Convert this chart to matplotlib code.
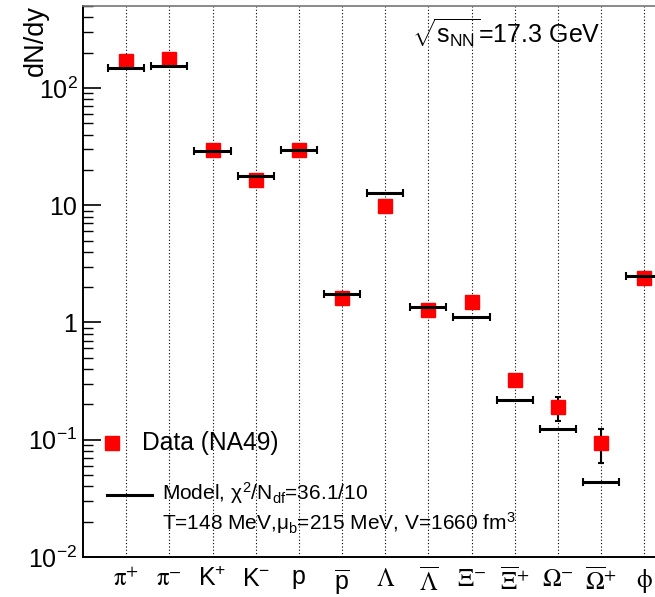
import matplotlib
matplotlib.use("Agg")
import matplotlib.pyplot as plt
from matplotlib.lines import Line2D
from matplotlib.ticker import FixedLocator, NullFormatter, LogLocator
import numpy as np

plt.rcParams['font.family'] = ['Liberation Sans', 'DejaVu Sans']
plt.rcParams['mathtext.fontset'] = 'custom'
plt.rcParams['mathtext.rm'] = 'Liberation Sans'
plt.rcParams['mathtext.it'] = 'Liberation Sans'
plt.rcParams['mathtext.sf'] = 'Liberation Sans'
plt.rcParams['mathtext.bf'] = 'Liberation Sans:bold'

# ---- data ----
particles = [r'$\mathrm{\pi}^{+}$', r'$\mathrm{\pi}^{-}$', r'$\mathrm{K}^{+}$', r'$\mathrm{K}^{-}$',
             r'$\mathrm{p}$', r'$\overline{\mathrm{p}}$', r'$\mathrm{\Lambda}$', r'$\overline{\mathrm{\Lambda}}$',
             r'$\mathrm{\Xi}^{-}$', r'$\overline{\mathrm{\Xi}}^{+}$', r'$\mathrm{\Omega}^{-}$',
             r'$\overline{\mathrm{\Omega}}^{+}$', r'$\mathrm{\phi}$']
greek = [True, True, False, False, False, False, True, True, True, True, True, True, True]
data_vals = [170, 177, 29.4, 16.4, 29.6, 1.62, 9.9, 1.29, 1.50, 0.324, 0.189, 0.0944, 2.38]
data_err_lo = [10, 10, 1.5, 0.8, 1.5, 0.12, 0.7, 0.1, 0.12, 0.03, 0.044, 0.031, 0.2]
data_err_hi = [10, 10, 1.5, 0.8, 1.5, 0.12, 0.7, 0.1, 0.12, 0.03, 0.041, 0.030, 0.2]
model_vals = [147, 155, 29.0, 17.9, 29.4, 1.74, 12.7, 1.36, 1.12, 0.218, 0.123, 0.0439, 2.50]
ytick_vals = [0.01, 0.1, 1, 10, 100]
ytick_labels = [r'$10^{-2}$', r'$10^{-1}$', '1', '10', r'$10^{2}$']

W, H = 655, 597
fig = plt.figure(figsize=(W / 100, H / 100), dpi=100)

x0, x1 = -1.0, 13.5
spacing = 43.17
ax_left, ax_top, ax_bot = 83, 6, 557
ax = fig.add_axes([ax_left / W, (H - ax_bot) / H, (x1 - x0) * spacing / W, (ax_bot - ax_top) / H])

x = np.arange(len(particles))

# vertical dotted lines at each category
for xi in x:
    ax.axvline(xi, color='black', lw=0.8, ls=(0, (1, 2)), zorder=1)

yerr = np.array([data_err_lo, data_err_hi])
ax.errorbar(x, data_vals, yerr=yerr, fmt='none', ecolor='black', elinewidth=1.5, capsize=2.5, capthick=1.5, zorder=2)
ax.plot(x, data_vals, ls='none', marker='s', markersize=9.4, color='#ff0000', mec='#ff0000', zorder=3)
ax.errorbar(x, model_vals, xerr=0.42, fmt='none', ecolor='black', elinewidth=2.2, capsize=3, capthick=1.5, zorder=4)

ax.set_yscale('log')
ax.set_xlim(x0, x1)
ax.set_ylim(0.01, 500)

ax.yaxis.set_major_locator(FixedLocator(ytick_vals))
ax.set_yticklabels(ytick_labels)
ax.yaxis.set_minor_locator(LogLocator(base=10, subs=np.arange(2, 10)))
ax.yaxis.set_minor_formatter(NullFormatter())
ax.tick_params(axis='y', which='major', direction='in', length=13, width=1.2, labelsize=18, pad=4)
ax.tick_params(axis='y', which='minor', direction='in', length=7, width=1.0)

ax.set_xticks(x)
ax.set_xticklabels(particles)
ax.tick_params(axis='x', which='both', length=0, labelsize=18, pad=7)
for lab, g in zip(ax.get_xticklabels(), greek):
    if g:
        lab.set_math_fontfamily('stix')
        lab.set_fontsize(18)

for s in ['left', 'bottom']:
    ax.spines[s].set_linewidth(1.4)
ax.spines['top'].set_color('#777777')
ax.spines['top'].set_linewidth(1.2)

# axis title
fig.text(36 / W, 1 - 5 / H, 'dN/dy', rotation=90, ha='center', va='top', fontsize=19.5)

# energy label
fig.text(412 / W, 1 - 33 / H, r'$\sqrt{s_{\mathrm{NN}}}$=17.3 GeV', ha='left', va='center', fontsize=18)

# legend
fig.add_artist(Line2D([112 / W], [1 - 443 / H], marker='s', markersize=9.4, color='#ff0000', ls='none'))
fig.text(142 / W, 1 - 443 / H, 'Data (NA49)', ha='left', va='center', fontsize=17.7)
fig.add_artist(Line2D([107 / W, 152 / W], [1 - 495 / H, 1 - 495 / H], color='black', lw=2.2))
fig.text(162 / W, 1 - 493 / H, r'Model, $\chi^{2}$/N$_{\mathrm{df}}$=36.1/10', ha='left', va='center', fontsize=15)
fig.text(162 / W, 1 - 523 / H, r'T=148 MeV,$\mu_{\mathrm{b}}$=215 MeV, V=1660 fm$^{3}$', ha='left', va='center', fontsize=15)

fig.savefig('out.png', dpi=100)
